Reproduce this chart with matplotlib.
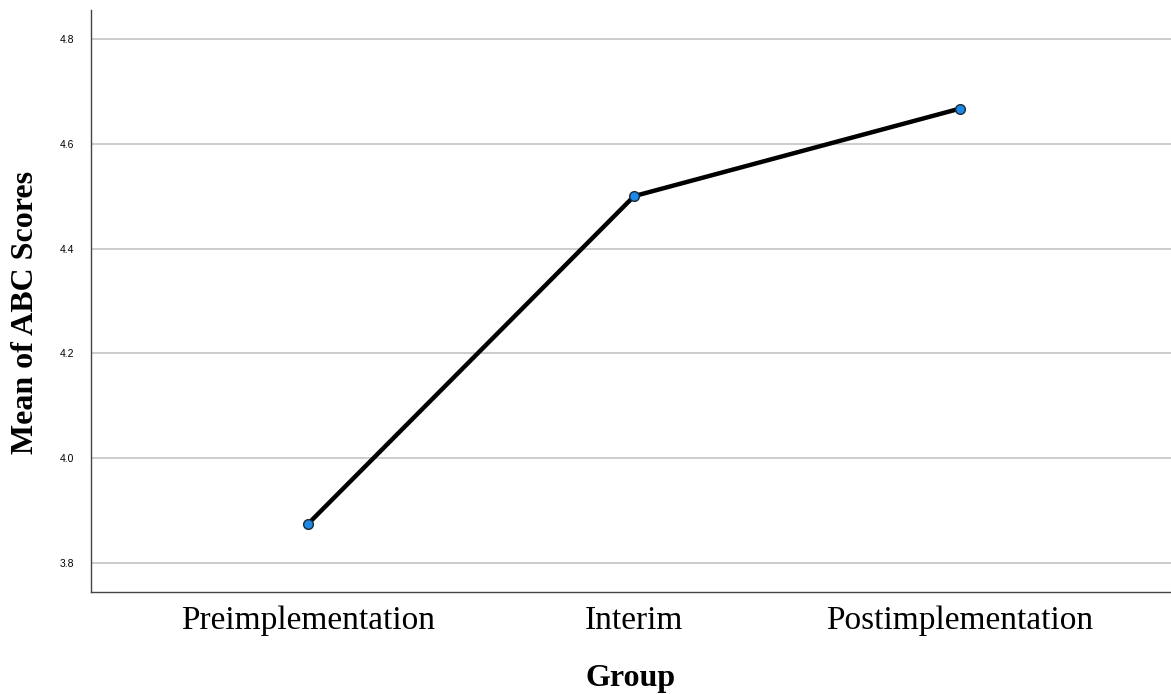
import matplotlib.pyplot as plt

groups = ['Preimplementation', 'Interim', 'Postimplementation']
mean_scores = [3.875, 4.5, 4.667]
y_ticks = [3.8, 4.0, 4.2, 4.4, 4.6, 4.8]

fig = plt.figure(figsize=(11.71, 6.94), dpi=100)
ax = fig.add_axes([91 / 1171, 102 / 694, 1 - 91 / 1171, 582 / 694])

x = list(range(len(groups)))
ax.plot(x, mean_scores, color='black', linewidth=3.2, marker='o',
        markersize=7, markerfacecolor='#1e88e5', markeredgecolor='#1a2a3a',
        markeredgewidth=1.0, zorder=3)

ax.set_xlim(-0.666, 2.647)
ax.set_ylim(3.745, 4.855)
ax.set_yticks(y_ticks)
ax.set_yticklabels([f'{v:.1f}' for v in y_ticks], fontsize=7.5,
                   family='Liberation Sans')
ax.set_xticks(x)
ax.set_xticklabels(groups, fontsize=24, family='Liberation Serif')

ax.grid(axis='y', color='#c8c8c8', linewidth=1.3, zorder=0)
ax.set_axisbelow(True)
ax.tick_params(axis='both', length=0)
ax.tick_params(axis='y', pad=12)
ax.tick_params(axis='x', pad=10)

for side in ['top', 'right']:
    ax.spines[side].set_visible(False)
for side in ['left', 'bottom']:
    ax.spines[side].set_color('#444444')
    ax.spines[side].set_linewidth(1.0)

ax.set_xlabel('Group', fontsize=23, fontweight='bold',
              family='Liberation Serif', labelpad=20)
ax.set_ylabel('Mean of ABC Scores', fontsize=23, fontweight='bold',
              family='Liberation Serif', labelpad=14)
ax.yaxis.label.set_y(0.48)

fig.savefig('out.png', dpi=100)
